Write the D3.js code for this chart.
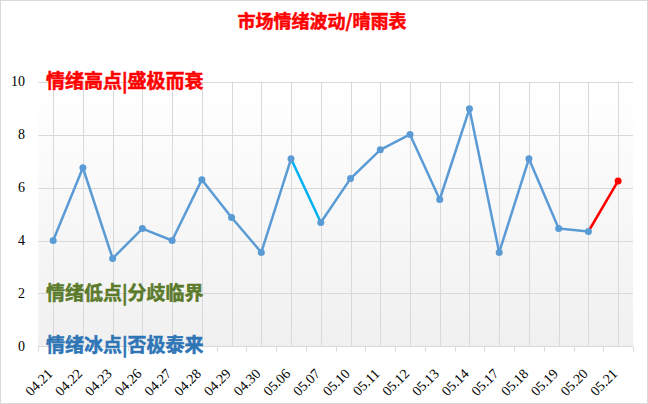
<!DOCTYPE html>
<html><head><meta charset="utf-8">
<script src="https://cdn.jsdelivr.net/npm/d3@7"></script>
<style>html,body{margin:0;padding:0;background:#fff;}svg{display:block;}</style>
</head><body>
<script>
const categories = ["04.21","04.22","04.23","04.26","04.27","04.28","04.29","04.30","05.06","05.07","05.10","05.11","05.12","05.13","05.14","05.17","05.18","05.19","05.20","05.21"];
const values = [4.0,6.75,3.32,4.45,4.0,6.3,4.87,3.55,7.09,4.68,6.34,7.43,8.01,5.55,8.98,3.55,7.09,4.45,4.34,6.25];
const yTicks = [0,2,4,6,8,10];
const title = "市场情绪波动/晴雨表";
const notes = [
  {text:"情绪高点|盛极而衰", y:10, color:"#FF0000"},
  {text:"情绪低点|分歧临界", y:2, color:"#5B7B2B"},
  {text:"情绪冰点|否极泰来", y:0, color:"#2E75B6"}
];
const highlight = {"05.06":"#00B0F0","05.20":"#FF0000"};

const W=648,H=404;
const svg=d3.select("body").append("svg").attr("width",W).attr("height",H);
const defs=svg.append("defs");
const g=defs.append("linearGradient").attr("id","bg").attr("x1",0).attr("y1",0).attr("x2",0).attr("y2",1);
g.append("stop").attr("offset","0%").attr("stop-color","#ffffff");
g.append("stop").attr("offset","100%").attr("stop-color","#f0f0f0");

svg.append("rect").attr("x",0.5).attr("y",0.5).attr("width",W-1).attr("height",H-1).attr("fill","#fff").attr("stroke","#d9d9d9");

const x=d3.scaleBand().domain(categories).range([38.3,633]);
const y=d3.scaleLinear().domain([0,10]).range([346.3,81.8]);
const serif="'Liberation Serif','Times New Roman',serif";
const cjk="'Noto Sans CJK SC','Noto Sans CJK JP',sans-serif";

svg.append("rect").attr("x",x.range()[0]).attr("y",y(10)).attr("width",x.range()[1]-x.range()[0]).attr("height",y(0)-y(10)).attr("fill","url(#bg)");

// horizontal grid
svg.append("g").selectAll("line").data(yTicks).join("line")
  .attr("x1",x.range()[0]).attr("x2",x.range()[1])
  .attr("y1",d=>Math.round(y(d))+0.5).attr("y2",d=>Math.round(y(d))+0.5)
  .attr("stroke","#d9d9d9").attr("stroke-width",1);
// vertical grid
svg.append("g").selectAll("line").data(categories).join("line")
  .attr("x1",d=>Math.round(x(d)+x.bandwidth()/2)+0.5).attr("x2",d=>Math.round(x(d)+x.bandwidth()/2)+0.5)
  .attr("y1",y(10)).attr("y2",y(0))
  .attr("stroke","#d9d9d9").attr("stroke-width",1);

// x axis ticks
const ax=svg.append("g").attr("transform",`translate(0,${Math.round(y(0))+0.5})`);
ax.append("line").attr("x1",x.range()[0]).attr("x2",x.range()[1]).attr("stroke","#d9d9d9");
const bounds=categories.map(c=>x(c)).concat([x.range()[1]]);
ax.selectAll("line.t").data(bounds).join("line").attr("class","t")
  .attr("x1",d=>Math.round(d)+0.5).attr("x2",d=>Math.round(d)+0.5).attr("y1",0).attr("y2",5).attr("stroke","#d9d9d9");

// x labels
svg.append("g").selectAll("text").data(categories).join("text")
  .attr("transform",d=>`translate(${x(d)+x.bandwidth()/2-3},${y(0)+25}) rotate(-45)`)
  .attr("text-anchor","end").attr("dominant-baseline","central")
  .attr("font-family",serif).attr("font-size",14).attr("fill","#000")
  .text(d=>d);

// y labels
svg.append("g").selectAll("text").data(yTicks).join("text")
  .attr("x",25).attr("y",d=>y(d)).attr("text-anchor","end").attr("dominant-baseline","central")
  .attr("font-family",serif).attr("font-size",14).attr("fill","#000")
  .text(d=>d);

// notes
svg.append("g").selectAll("text").data(notes).join("text")
  .attr("x",46).attr("y",d=>y(d.y)+1).attr("dominant-baseline","middle")
  .attr("font-family",cjk).attr("font-weight",700).attr("font-size",19)
  .attr("fill",d=>d.color).attr("stroke",d=>d.color).attr("stroke-width",0.5).text(d=>d.text);

// line
const pts=categories.map((c,i)=>({c,v:values[i],x:x(c)+x.bandwidth()/2,y:y(values[i])}));
const segs=d3.pairs(pts);
svg.append("g").selectAll("line").data(segs).join("line")
  .attr("x1",d=>d[0].x).attr("y1",d=>d[0].y).attr("x2",d=>d[1].x).attr("y2",d=>d[1].y)
  .attr("stroke",d=>highlight[d[0].c]||"#5B9BD5").attr("stroke-width",2.5).attr("stroke-linecap","round");
svg.append("g").selectAll("circle").data(pts).join("circle")
  .attr("cx",d=>d.x).attr("cy",d=>d.y).attr("r",3.5)
  .attr("fill",(d,i)=>i===pts.length-1?"#FF0000":"#5B9BD5");

// title
svg.append("text").attr("x",322).attr("y",23).attr("text-anchor","middle").attr("dominant-baseline","middle")
  .attr("font-family",cjk).attr("font-weight",700).attr("font-size",18)
  .attr("fill","#FF0000").attr("stroke","#FF0000").attr("stroke-width",0.5).text(title);
</script>
</body></html>
